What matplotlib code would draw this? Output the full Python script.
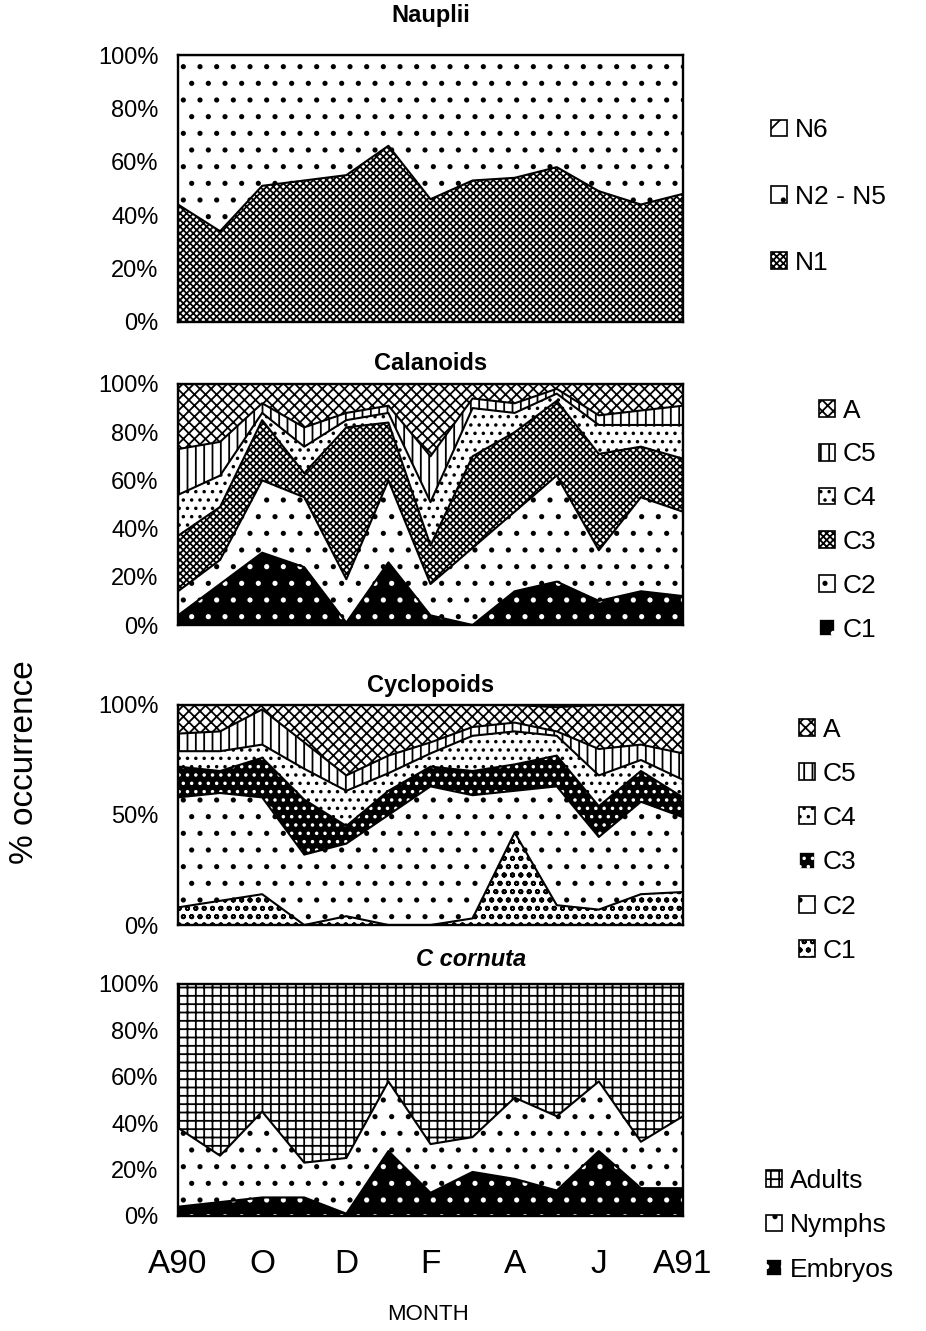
import matplotlib.pyplot as plt
import numpy as np
from matplotlib.patches import Patch
from matplotlib.ticker import PercentFormatter

plt.rcParams['font.family'] = ['Liberation Sans', 'DejaVu Sans']
plt.rcParams['hatch.linewidth'] = 1.3

# monthly samples, Aug 1990 -> Aug 1991
months = ['A90', 'S', 'O', 'N', 'D', 'J', 'F', 'M', 'A', 'M', 'J', 'J', 'A91']
tick_pos = [0, 2, 4, 6, 8, 10, 12]
tick_labels = ['A90', 'O', 'D', 'F', 'A', 'J', 'A91']
x = np.arange(len(months))

# Nauplii (% occurrence, bottom -> top)
naup_n1 = [44, 34, 51, 53, 55, 66, 46, 53, 54, 58, 49, 44, 48]
naup_n2_n5 = [56, 66, 49, 47, 45, 34, 54, 47, 46, 42, 51, 56, 52]
naup_n6 = [0, 0, 0, 0, 0, 0, 0, 0, 0, 0, 0, 0, 0]

# Calanoids
cal_c1 = [4, 17, 30, 24, 1, 26, 4, 0, 14, 18, 10, 14, 12]
cal_c2 = [10, 10, 30, 29, 18, 34, 13, 32, 33, 44, 21, 39, 35]
cal_c3 = [23, 22, 25, 10, 63, 24, 16, 38, 33, 31, 40, 21, 22]
cal_c4 = [17, 13, 3, 11, 3, 4, 18, 20, 8, 3, 12, 9, 14]
cal_c5 = [19, 14, 4, 8, 3, 3, 19, 4, 4, 2, 4, 6, 8]
cal_a = [27, 24, 8, 18, 12, 9, 30, 6, 8, 2, 13, 11, 9]

# Cyclopoids
cyc_c1 = [8, 11, 14, 0, 4, 0, 0, 3, 42, 9, 7, 14, 15]
cyc_c2 = [50, 49, 44, 32, 33, 50, 63, 56, 19, 54, 33, 42, 34]
cyc_c3 = [14, 10, 18, 25, 8, 11, 9, 11, 12, 14, 14, 14, 9]
cyc_c4 = [7, 9, 6, 14, 16, 8, 6, 16, 15, 9, 14, 5, 8]
cyc_c5 = [8, 9, 16, 12, 7, 8, 5, 4, 4, 2, 12, 7, 12]
cyc_a = [13, 12, 2, 17, 32, 23, 17, 10, 8, 11, 20, 18, 22]

# C cornuta
cor_embryos = [4, 6, 8, 8, 1, 28, 10, 19, 16, 11, 28, 12, 12]
cor_nymphs = [34, 20, 37, 15, 24, 30, 21, 15, 35, 32, 30, 20, 31]
cor_adults = [62, 74, 55, 77, 75, 42, 69, 66, 49, 57, 42, 68, 57]

W, H = 926, 1331
fig = plt.figure(figsize=(W / 100, H / 100), dpi=100)


def axes_px(top, bottom, left=178, right=683):
    return fig.add_axes([left / W, 1 - bottom / H, (right - left) / W, (bottom - top) / H])


def draw_panel(ax, series, labels, styles, title, title_pad, yticks,
               leg_xy, leg_space, title_style='normal'):
    base = np.zeros(len(x))
    handles = []
    for vals, (face, hcol, hatch) in zip(series, styles):
        top = base + np.array(vals, dtype=float)
        ax.fill_between(x, base, top, facecolor=face, edgecolor=hcol,
                        hatch=hatch, linewidth=0)
        ax.plot(x, top, color='black', lw=1.5)
        handles.append(Patch(facecolor=face, edgecolor=hcol if face == 'black' else 'black',
                             hatch=hatch, lw=1.2))
        base = top
    ax.set_xlim(0, 12)
    ax.set_ylim(0, 100)
    ax.set_yticks(yticks)
    ax.yaxis.set_major_formatter(PercentFormatter(100, decimals=0))
    ax.tick_params(axis='y', length=0, pad=14, labelsize=17)
    ax.set_xticks([])
    for s in ax.spines.values():
        s.set_linewidth(1.7)
    ax.set_title(title, fontsize=17, fontweight='bold', style=title_style, pad=title_pad)
    ax.legend(handles[::-1], labels[::-1], loc='center left', bbox_to_anchor=leg_xy,
              frameon=False, fontsize=19, handlelength=0.6, handleheight=0.6,
              handletextpad=0.3, labelspacing=leg_space, borderpad=0, borderaxespad=0)


ax1 = axes_px(55, 322)
draw_panel(ax1, [naup_n1, naup_n2_n5, naup_n6], ['N1', 'N2 - N5', 'N6'],
           [('white', 'black', 'xxxxx'), ('white', 'black', '.'), ('white', 'black', '/')],
           'Nauplii', 24, [0, 20, 40, 60, 80, 100], (1.175, 0.47), 1.6)

ax2 = axes_px(384, 625)
draw_panel(ax2, [cal_c1, cal_c2, cal_c3, cal_c4, cal_c5, cal_a],
           ['C1', 'C2', 'C3', 'C4', 'C5', 'A'],
           [('black', 'white', '.'), ('white', 'black', '.'), ('white', 'black', 'xxxxx'),
            ('white', 'black', '..'), ('white', 'black', '||'), ('white', 'black', 'xxx')],
           'Calanoids', 10, [0, 20, 40, 60, 80, 100], (1.27, 0.435), 0.75)

ax3 = axes_px(705, 925)
draw_panel(ax3, [cyc_c1, cyc_c2, cyc_c3, cyc_c4, cyc_c5, cyc_a],
           ['C1', 'C2', 'C3', 'C4', 'C5', 'A'],
           [('white', 'black', 'oo'), ('white', 'black', '.'), ('black', 'white', '..'),
            ('white', 'black', '..'), ('white', 'black', '||'), ('white', 'black', 'xxx')],
           'Cyclopoids', 9, [0, 50, 100], (1.23, 0.385), 0.77)

ax4 = axes_px(984, 1216)
draw_panel(ax4, [cor_embryos, cor_nymphs, cor_adults], ['Embryos', 'Nymphs', 'Adults'],
           [('black', 'white', '.'), ('white', 'black', '.'), ('white', 'black', '++')],
           'C cornuta', 13, [0, 20, 40, 60, 80, 100], (1.165, -0.04), 0.78,
           title_style='italic')
ax4.title.set_x(0.58)
ax4.set_xticks(tick_pos)
ax4.set_xticklabels(tick_labels)
ax4.tick_params(axis='x', length=0, pad=24, labelsize=24)

fig.text(0.026, 1 - 762 / H, '% occurrence', rotation=90, fontsize=24,
         ha='center', va='center')
fig.text(428 / W, 1 - 1314 / H, 'MONTH', fontsize=16, ha='center', va='center')

fig.savefig('out.png', dpi=100)
